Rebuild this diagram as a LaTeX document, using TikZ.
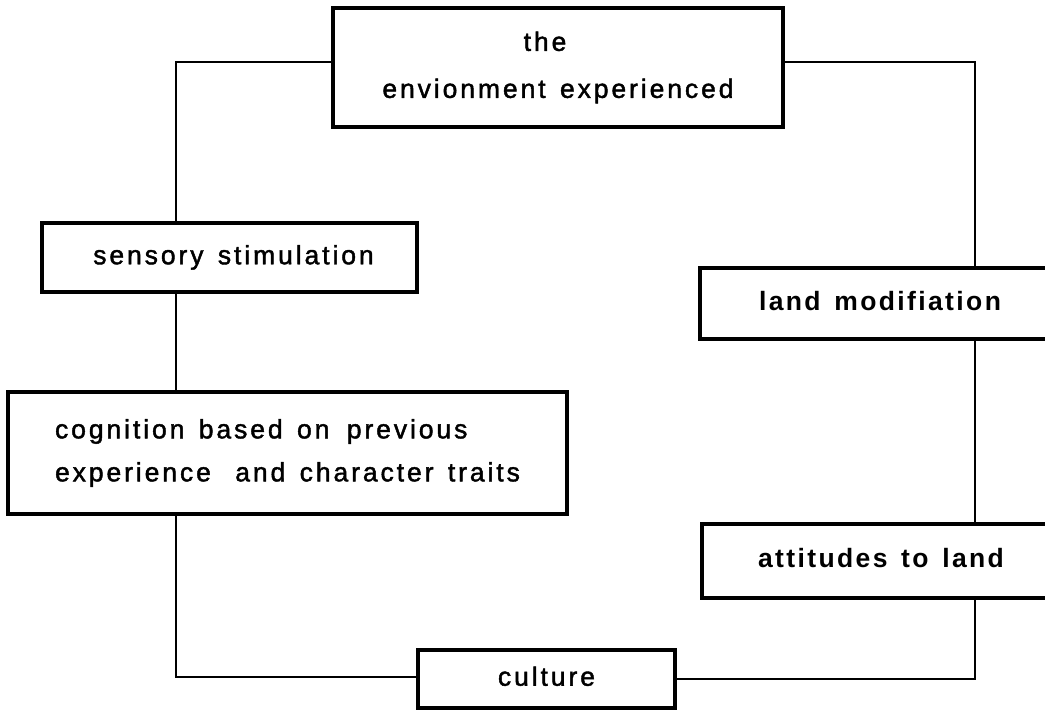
\documentclass[tikz,border=0pt]{standalone}
\usepackage{fontspec}
\setmainfont{Liberation Sans}[LetterSpace=11,WordSpace=1.4,Ligatures=CommonOff,FakeBold=1.6]
\newfontfamily\heavyfont{Liberation Sans Bold}[LetterSpace=9,WordSpace=1.4,Ligatures=CommonOff]
\begin{document}
\begin{tikzpicture}[x=1pt,y=-1pt]
\tikzset{
  boxbase/.style={draw, rectangle, line width=3.5pt, inner sep=0pt, fill=white},
  onebox/.style={boxbase, font=\fontsize{26.5}{30}\selectfont, text height=19pt, text depth=5.5pt},
  heavybox/.style={onebox, line width=4pt, font=\fontsize{26.5}{30}\heavyfont},
  link/.style={line width=1.8pt, line join=miter}
}
\useasboundingbox (0,0) rectangle (1045,710);
\fill[white] (0,0) rectangle (1045,710);
\clip (0,0) rectangle (1045,710);

\node[boxbase, align=center, font=\fontsize{26.5}{47}\selectfont,
      minimum width=450pt, minimum height=119pt] (top) at (558,67.5)
      {the\hspace*{26pt}\\envionment experienced};
\node[onebox, minimum width=375pt, minimum height=69pt] (sens) at (229.5,257.5)
      {\hspace*{8pt}sensory stimulation};
\node[boxbase, align=left, font=\fontsize{26.5}{43}\selectfont,
      minimum width=559pt, minimum height=122pt] (cog) at (287.5,453)
      {cognition based on\hspace{3pt} previous\\experience\hspace{10pt} and character traits};
\node[onebox, minimum width=257pt, minimum height=58pt] (cult) at (546.5,679)
      {culture};
\node[heavybox, minimum width=360pt, minimum height=71pt] (land) at (880,303.5)
      {land modifiation};
\node[heavybox, minimum width=358pt, minimum height=74pt] (att) at (881,561)
      {attitudes to land};

\coordinate (tl) at (176,62);
\coordinate (tr) at (975,62);
\coordinate (bl) at (176,677);
\coordinate (br) at (975,679);

\draw[link] (top.west |- tl) -- (tl) -- (tl |- sens.north);
\draw[link] (sens.south -| tl) -- (cog.north -| tl);
\draw[link] (cog.south -| bl) -- (bl) -- (bl -| cult.west);
\draw[link] (cult.east |- br) -- (br) -- (br |- att.south);
\draw[link] (att.north -| tr) -- (land.south -| tr);
\draw[link] (land.north -| tr) -- (tr) -- (tr -| top.east);
\end{tikzpicture}
\end{document}
